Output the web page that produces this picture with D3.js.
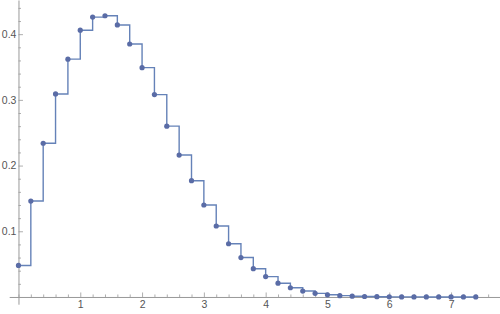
<!DOCTYPE html>
<html>
<head>
<meta charset="utf-8">
<script src="https://cdn.jsdelivr.net/npm/d3@7"></script>
<style>
  body { margin: 0; background: #fff; }
  svg { display: block; }
</style>
</head>
<body>
<div id="chart"></div>
<script>
// data
var xs = [0, 0.2, 0.4, 0.6, 0.8, 1.0, 1.2, 1.4, 1.6, 1.8,
          2.0, 2.2, 2.4, 2.6, 2.8, 3.0, 3.2, 3.4, 3.6, 3.8,
          4.0, 4.2, 4.4, 4.6, 4.8, 5.0, 5.2, 5.4, 5.6, 5.8,
          6.0, 6.2, 6.4, 6.6, 6.8, 7.0, 7.2, 7.4];
var ys = [0.048, 0.146, 0.234, 0.309, 0.362, 0.406, 0.426, 0.428, 0.414, 0.385,
          0.349, 0.308, 0.260, 0.216, 0.177, 0.140, 0.108, 0.081, 0.060, 0.043,
          0.031, 0.021, 0.014, 0.009, 0.0055, 0.0033, 0.002, 0.0012, 0.0007, 0.0004,
          0.0002, 0.0001, 0.0001, 0.00005, 0, 0, 0, 0];
var xMajor = [1, 2, 3, 4, 5, 6, 7];
var xMinor = [0, 0.2, 0.4, 0.6, 0.8, 1.2, 1.4, 1.6, 1.8, 2.2, 2.4, 2.6, 2.8,
              3.2, 3.4, 3.6, 3.8, 4.2, 4.4, 4.6, 4.8, 5.2, 5.4, 5.6, 5.8,
              6.2, 6.4, 6.6, 6.8, 7.2, 7.4, 7.6];
var yMajor = [0.1, 0.2, 0.3, 0.4];
var yMinor = [0.02, 0.04, 0.06, 0.08, 0.12, 0.14, 0.16, 0.18, 0.22, 0.24, 0.26, 0.28,
              0.32, 0.34, 0.36, 0.38, 0.42, 0.44];

var data = xs.map(function(d, i){ return {x: d, y: ys[i]}; });

var width = 500, height = 314;

var svg = d3.select("#chart")
  .append("svg")
  .attr("width", width)
  .attr("height", height);

var x = d3.scaleLinear()
  .domain([-0.15, 7.8])
  .range([9.2, 500.5]);

var y = d3.scaleLinear()
  .domain([-0.011, 0.452])
  .range([304.2, 0]);

var axisColor = "#999";
var labelColor = "#555";

// x axis
var gx = svg.append("g")
  .attr("transform", "translate(0," + y(0) + ")");
gx.call(d3.axisBottom(x).tickValues(xMinor).tickSize(-2.5).tickSizeOuter(0).tickFormat(""));
gx.select(".domain").remove();
var gx2 = svg.append("g")
  .attr("transform", "translate(0," + y(0) + ")");
gx2.call(d3.axisBottom(x).tickValues(xMajor).tickSize(-4.5).tickSizeOuter(0).tickPadding(4)
  .tickFormat(d3.format("d")));

// y axis
var gy = svg.append("g")
  .attr("transform", "translate(" + x(0) + ",0)");
gy.call(d3.axisLeft(y).tickValues(yMinor).tickSize(-2.5).tickSizeOuter(0).tickFormat(""));
gy.select(".domain").remove();
var gy2 = svg.append("g")
  .attr("transform", "translate(" + x(0) + ",0)");
gy2.call(d3.axisLeft(y).tickValues(yMajor).tickSize(-4.5).tickSizeOuter(0).tickPadding(2)
  .tickFormat(d3.format(".1f")));

svg.selectAll(".domain").attr("stroke", axisColor).attr("stroke-width", 1);
svg.selectAll(".tick line").attr("stroke", axisColor).attr("stroke-width", 0.8);
svg.selectAll(".tick text")
  .attr("fill", labelColor)
  .style("font-family", "'Liberation Sans', Arial, sans-serif")
  .style("font-size", "10.5px");

// step line
var line = d3.line()
  .x(function(d){ return x(d.x); })
  .y(function(d){ return y(d.y); })
  .curve(d3.curveStepAfter);

svg.append("path")
  .datum(data)
  .attr("fill", "none")
  .attr("stroke", "#6582b8")
  .attr("stroke-width", 1.4)
  .attr("d", line);

// points
svg.selectAll(".pt")
  .data(data)
  .enter()
  .append("circle")
    .attr("class", "pt")
    .attr("cx", function(d){ return x(d.x); })
    .attr("cy", function(d){ return y(d.y); })
    .attr("r", 2.6)
    .attr("fill", "#5a6ca6");
</script>
</body>
</html>
